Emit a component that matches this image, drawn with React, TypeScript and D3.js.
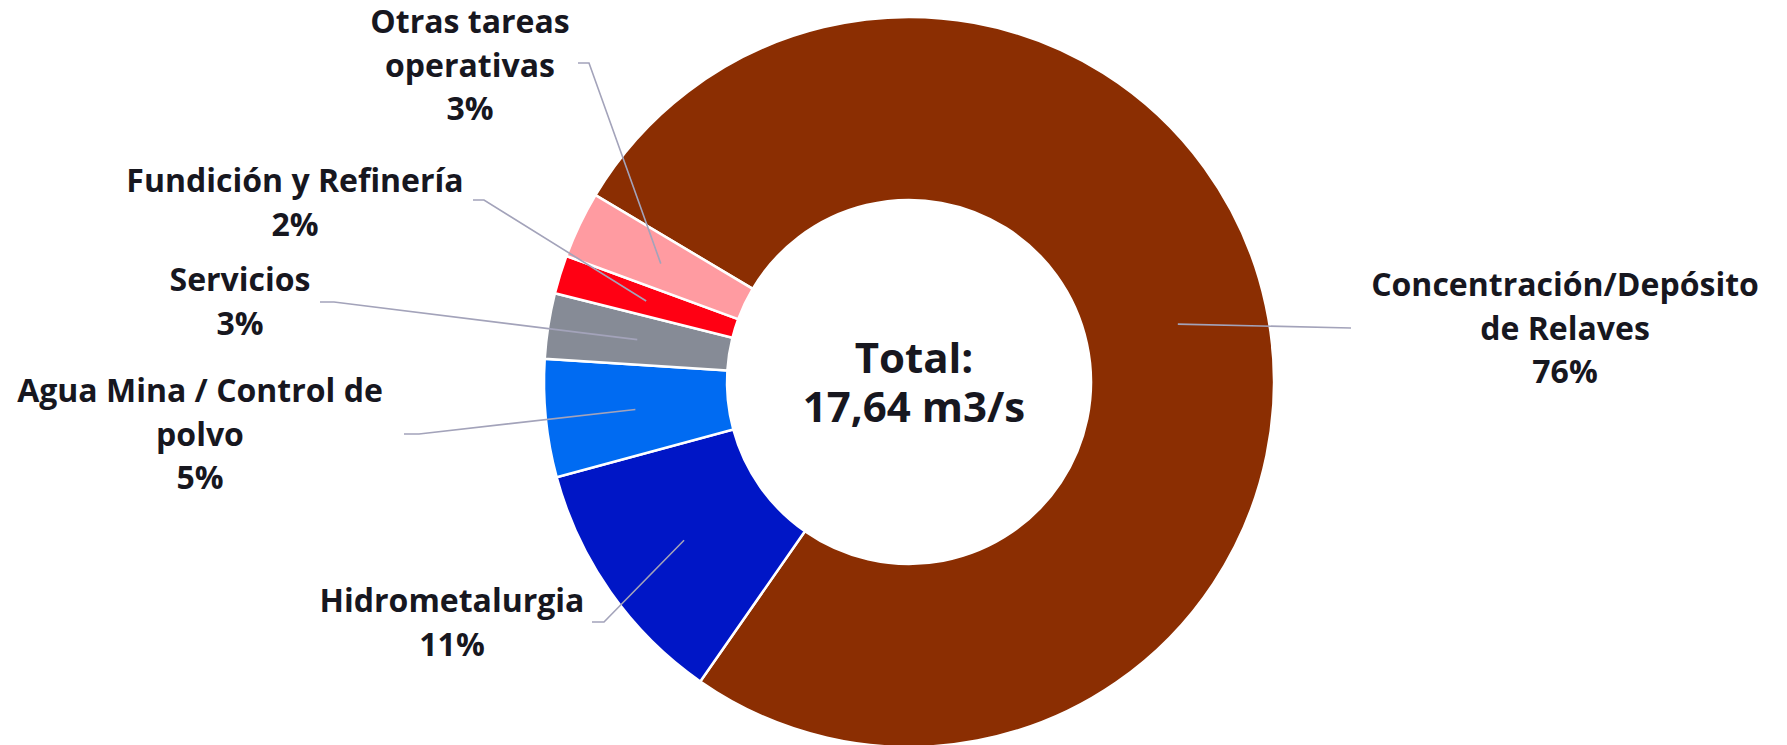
import { useEffect, useRef } from 'react';
import * as d3 from 'd3';

// Water consumption by process (m3/s)
const categories = [
  'Concentración/Depósito de Relaves',
  'Hidrometalurgia',
  'Agua Mina / Control de polvo',
  'Servicios',
  'Fundición y Refinería',
  'Otras tareas operativas',
];
const values = [13.43, 1.96, 0.92, 0.51, 0.3, 0.52];
const labelLines = [
  ['Concentración/Depósito', 'de Relaves'],
  ['Hidrometalurgia'],
  ['Agua Mina / Control de', 'polvo'],
  ['Servicios'],
  ['Fundición y Refinería'],
  ['Otras tareas', 'operativas'],
];
const colors = ['#8B2E02', '#0016C6', '#006BF2', '#868B96', '#FF0013', '#FF9BA1'];

// label layout: text centre x, first baseline y, leader elbow [x,y], leader end x
const labelLayout = [
  { x: 1565, y: 296, elbow: [1351, 328], end: 1351 },
  { x: 452, y: 612, elbow: [604, 622], end: 592 },
  { x: 200, y: 402, elbow: [419, 434], end: 404 },
  { x: 240, y: 291, elbow: [334, 302], end: 320 },
  { x: 295, y: 192, elbow: [484, 200], end: 473 },
  { x: 470, y: 33, elbow: [589, 63], end: 578 },
];

export default function App() {
  const ref = useRef<SVGSVGElement>(null);

  useEffect(() => {
    document.body.style.margin = '0';
    if (!ref.current) return;
    const svg = d3.select(ref.current);
    svg.selectAll('*').remove();

    const cx = 909;
    const cy = 382;
    const outerR = 365;
    const innerR = 182;
    const total = d3.sum(values);

    const data = categories.map((c, i) => ({ name: c, value: values[i], idx: i }));

    const pie = d3
      .pie<any>()
      .sort(null)
      .value((d) => d.value)
      .startAngle((-59.2 * Math.PI) / 180)
      .endAngle((-59.2 * Math.PI) / 180 + 2 * Math.PI);

    const arcs = pie(data);
    const arc = d3.arc<any>().innerRadius(innerR).outerRadius(outerR);
    const leaderArc = d3.arc<any>().innerRadius(275).outerRadius(275);

    const g = svg.append('g').attr('transform', `translate(${cx},${cy})`);

    g.selectAll('path.slice')
      .data(arcs)
      .enter()
      .append('path')
      .attr('class', 'slice')
      .attr('d', arc)
      .attr('fill', (d) => colors[d.data.idx])
      .attr('stroke', '#ffffff')
      .attr('stroke-width', 2.5);

    // leader lines
    arcs.forEach((a) => {
      const lay = labelLayout[a.data.idx];
      const [px, py] = leaderArc.centroid(a);
      const pts: [number, number][] = [
        [px + cx, py + cy],
        [lay.elbow[0], lay.elbow[1]],
        [lay.end, lay.elbow[1]],
      ];
      svg
        .append('path')
        .attr('d', d3.line()(pts))
        .attr('fill', 'none')
        .attr('stroke', '#A3A3BA')
        .attr('stroke-width', 1.6);
    });

    // labels
    arcs.forEach((a) => {
      const lay = labelLayout[a.data.idx];
      const lines = [...labelLines[a.data.idx], `${Math.round((a.data.value / total) * 100)}%`];
      const t = svg
        .append('text')
        .attr('text-anchor', 'middle')
        .attr('font-family', '"Open Sans", sans-serif')
        .attr('font-weight', 700)
        .attr('font-size', 32)
        .attr('fill', '#17171F');
      lines.forEach((ln, i) => {
        t.append('tspan')
          .attr('x', lay.x)
          .attr('y', lay.y + i * 43.5)
          .text(ln);
      });
    });

    // centre total
    const ct = svg
      .append('text')
      .attr('text-anchor', 'middle')
      .attr('font-family', '"Open Sans", sans-serif')
      .attr('font-weight', 700)
      .attr('font-size', 42)
      .attr('fill', '#17171F');
    ct.append('tspan').attr('x', cx + 5).attr('y', 373).text('Total:');
    ct.append('tspan')
      .attr('x', cx + 5)
      .attr('y', 422)
      .text(`${total.toFixed(2).replace('.', ',')} m3/s`);
  }, []);

  return <svg ref={ref} width={1787} height={745} style={{ display: 'block', background: '#fff' }} />;
}
